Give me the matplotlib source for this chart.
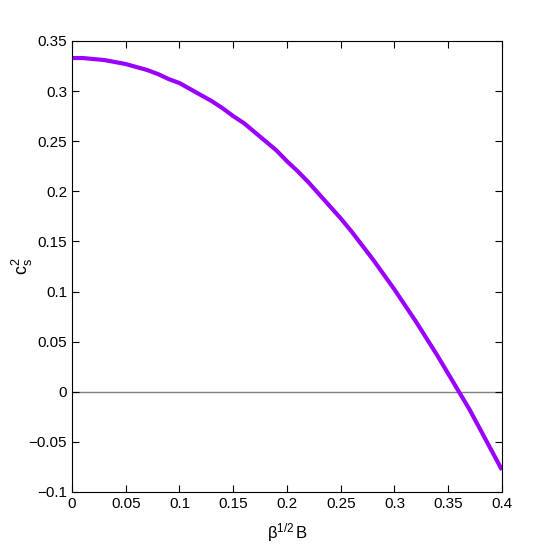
import matplotlib
matplotlib.use("Agg")
import matplotlib.pyplot as plt

# beta^(1/2) B values and the sound speed squared
x_vals = [0.00, 0.01, 0.02, 0.03, 0.04, 0.05, 0.06, 0.07, 0.08, 0.09, 0.10,
          0.11, 0.12, 0.13, 0.14, 0.15, 0.16, 0.17, 0.18, 0.19, 0.20,
          0.21, 0.22, 0.23, 0.24, 0.25, 0.26, 0.27, 0.28, 0.29, 0.30,
          0.31, 0.32, 0.33, 0.34, 0.35, 0.36, 0.37, 0.38, 0.39, 0.40]
cs2 = [0.333, 0.333, 0.332, 0.331, 0.329, 0.327, 0.324, 0.321, 0.317, 0.312, 0.308,
       0.302, 0.296, 0.290, 0.283, 0.275, 0.268, 0.259, 0.250, 0.241, 0.230,
       0.220, 0.209, 0.197, 0.185, 0.173, 0.160, 0.146, 0.132, 0.117, 0.102,
       0.086, 0.070, 0.053, 0.036, 0.018, 0.000, -0.018, -0.038, -0.058, -0.078]

x_ticks = [0, 0.05, 0.1, 0.15, 0.2, 0.25, 0.3, 0.35, 0.4]
x_tick_labels = ['0', '0.05', '0.1', '0.15', '0.2', '0.25', '0.3', '0.35', '0.4']
y_ticks = [-0.1, -0.05, 0, 0.05, 0.1, 0.15, 0.2, 0.25, 0.3, 0.35]
y_tick_labels = ['\u22120.1', '\u22120.05', '0', '0.05', '0.1', '0.15', '0.2', '0.25', '0.3', '0.35']

plt.rcParams['font.family'] = ['Liberation Sans', 'DejaVu Sans']
plt.rcParams['mathtext.fontset'] = 'custom'
plt.rcParams['mathtext.rm'] = 'Liberation Sans'
plt.rcParams['mathtext.it'] = 'Liberation Sans'

fig = plt.figure(figsize=(5.54, 5.54), dpi=100)
ax = fig.add_axes([0.130, 0.112, 0.776, 0.814])

# zero line
ax.axhline(0, color='#808080', linewidth=1.0, zorder=1)
ax.plot(x_vals, cs2, color='#9a00ff', linewidth=3.0, zorder=2,
        solid_joinstyle='round', solid_capstyle='butt')

ax.set_xlim(0, 0.4)
ax.set_ylim(-0.1, 0.35)
ax.set_xticks(x_ticks)
ax.set_xticklabels(x_tick_labels)
ax.set_yticks(y_ticks)
ax.set_yticklabels(y_tick_labels)
ax.tick_params(direction='in', top=True, right=True, labelsize=11, length=5, width=0.8)

ax.set_xlabel(r'$\mathrm{\beta^{1/2}\,B}$', fontsize=12)
ax.set_ylabel(r'$\mathrm{c_s^2}$', fontsize=13)
ax.yaxis.set_label_coords(-0.085, 0.5)
ax.xaxis.set_label_coords(0.5, -0.065)

for s in ax.spines.values():
    s.set_linewidth(0.8)

fig.savefig('out.png', dpi=100)
